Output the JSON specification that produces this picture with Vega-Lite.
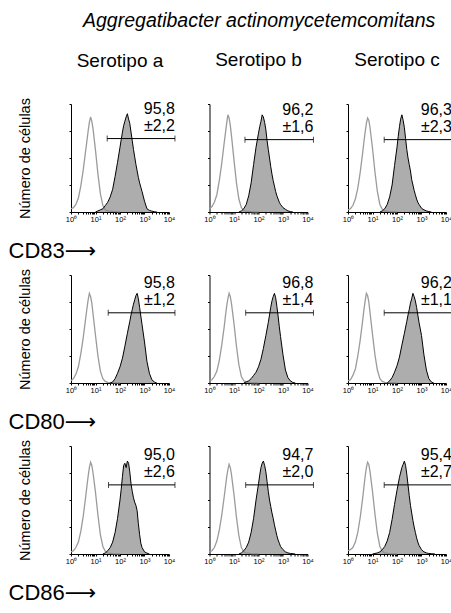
{
"$schema":"https://vega.github.io/schema/vega-lite/v6.json",
"padding":{"left":8,"right":0,"top":10,"bottom":5},
"title":{"text":"Aggregatibacter actinomycetemcomitans","fontStyle":"italic","fontSize":19.5,"fontWeight":"normal","anchor":"start","dx":75,"offset":20},
"datasets":{
"gates":[
{"p":"CD83a","x1":30,"x2":17500,"gy":68,"pct":"95,8","sd":"±2,2"},
{"p":"CD83b","x1":28,"x2":17500,"gy":67,"pct":"96,2","sd":"±1,6"},
{"p":"CD83c","x1":30,"x2":17500,"gy":67,"pct":"96,3","sd":"±2,3"},
{"p":"CD80a","x1":33,"x2":17500,"gy":65,"pct":"95,8","sd":"±1,2"},
{"p":"CD80b","x1":30,"x2":17500,"gy":65,"pct":"96,8","sd":"±1,4"},
{"p":"CD80c","x1":30,"x2":17500,"gy":65,"pct":"96,2","sd":"±1,1"},
{"p":"CD86a","x1":34,"x2":17500,"gy":64,"pct":"95,0","sd":"±2,6"},
{"p":"CD86b","x1":30,"x2":17500,"gy":64,"pct":"94,7","sd":"±2,0"},
{"p":"CD86c","x1":30,"x2":17500,"gy":64,"pct":"95,4","sd":"±2,7"}
],
"curves":[
{"p":"CD83a","s":"iso","x":1,"y":3},{"p":"CD83a","s":"iso","x":1.26,"y":4},{"p":"CD83a","s":"iso","x":1.58,"y":7},{"p":"CD83a","s":"iso","x":2,"y":13},{"p":"CD83a","s":"iso","x":2.51,"y":24},{"p":"CD83a","s":"iso","x":3.16,"y":39},{"p":"CD83a","s":"iso","x":3.98,"y":57},{"p":"CD83a","s":"iso","x":4.47,"y":66},{"p":"CD83a","s":"iso","x":5.01,"y":75},{"p":"CD83a","s":"iso","x":5.62,"y":83},{"p":"CD83a","s":"iso","x":6.31,"y":88},{"p":"CD83a","s":"iso","x":7.08,"y":84},{"p":"CD83a","s":"iso","x":7.94,"y":77},{"p":"CD83a","s":"iso","x":10,"y":57},{"p":"CD83a","s":"iso","x":12.6,"y":35},{"p":"CD83a","s":"iso","x":15.8,"y":17},{"p":"CD83a","s":"iso","x":20,"y":6},{"p":"CD83a","s":"iso","x":25.1,"y":2},{"p":"CD83a","s":"iso","x":31.6,"y":1},{"p":"CD83a","s":"iso","x":50,"y":0.5},{"p":"CD83a","s":"iso","x":100,"y":0.2},
{"p":"CD83b","s":"iso","x":1,"y":3},{"p":"CD83b","s":"iso","x":1.26,"y":5},{"p":"CD83b","s":"iso","x":1.58,"y":9},{"p":"CD83b","s":"iso","x":2,"y":16},{"p":"CD83b","s":"iso","x":2.51,"y":29},{"p":"CD83b","s":"iso","x":3.16,"y":45},{"p":"CD83b","s":"iso","x":3.98,"y":64},{"p":"CD83b","s":"iso","x":4.47,"y":73},{"p":"CD83b","s":"iso","x":5.01,"y":82},{"p":"CD83b","s":"iso","x":5.62,"y":90},{"p":"CD83b","s":"iso","x":6.31,"y":87},{"p":"CD83b","s":"iso","x":7.08,"y":80},{"p":"CD83b","s":"iso","x":7.94,"y":70},{"p":"CD83b","s":"iso","x":10,"y":48},{"p":"CD83b","s":"iso","x":12.6,"y":27},{"p":"CD83b","s":"iso","x":15.8,"y":12},{"p":"CD83b","s":"iso","x":20,"y":4},{"p":"CD83b","s":"iso","x":25.1,"y":1.5},{"p":"CD83b","s":"iso","x":31.6,"y":0.8},{"p":"CD83b","s":"iso","x":50,"y":0.3},{"p":"CD83b","s":"iso","x":100,"y":0.1},
{"p":"CD83c","s":"iso","x":1,"y":2},{"p":"CD83c","s":"iso","x":1.26,"y":3},{"p":"CD83c","s":"iso","x":1.58,"y":6},{"p":"CD83c","s":"iso","x":2,"y":12},{"p":"CD83c","s":"iso","x":2.51,"y":22},{"p":"CD83c","s":"iso","x":3.16,"y":37},{"p":"CD83c","s":"iso","x":3.98,"y":55},{"p":"CD83c","s":"iso","x":4.47,"y":65},{"p":"CD83c","s":"iso","x":5.01,"y":74},{"p":"CD83c","s":"iso","x":5.62,"y":82},{"p":"CD83c","s":"iso","x":6.31,"y":87},{"p":"CD83c","s":"iso","x":7.08,"y":85},{"p":"CD83c","s":"iso","x":7.94,"y":78},{"p":"CD83c","s":"iso","x":10,"y":59},{"p":"CD83c","s":"iso","x":12.6,"y":37},{"p":"CD83c","s":"iso","x":15.8,"y":19},{"p":"CD83c","s":"iso","x":20,"y":7},{"p":"CD83c","s":"iso","x":25.1,"y":2.5},{"p":"CD83c","s":"iso","x":31.6,"y":1},{"p":"CD83c","s":"iso","x":50,"y":0.4},{"p":"CD83c","s":"iso","x":100,"y":0.1},
{"p":"CD80a","s":"iso","x":1,"y":2},{"p":"CD80a","s":"iso","x":1.26,"y":4},{"p":"CD80a","s":"iso","x":1.58,"y":8},{"p":"CD80a","s":"iso","x":2,"y":15},{"p":"CD80a","s":"iso","x":2.51,"y":27},{"p":"CD80a","s":"iso","x":3.16,"y":42},{"p":"CD80a","s":"iso","x":3.98,"y":60},{"p":"CD80a","s":"iso","x":4.47,"y":69},{"p":"CD80a","s":"iso","x":5.01,"y":77},{"p":"CD80a","s":"iso","x":5.62,"y":83},{"p":"CD80a","s":"iso","x":6.31,"y":80},{"p":"CD80a","s":"iso","x":7.08,"y":74},{"p":"CD80a","s":"iso","x":7.94,"y":64},{"p":"CD80a","s":"iso","x":10,"y":44},{"p":"CD80a","s":"iso","x":12.6,"y":25},{"p":"CD80a","s":"iso","x":15.8,"y":11},{"p":"CD80a","s":"iso","x":20,"y":4},{"p":"CD80a","s":"iso","x":25.1,"y":1.5},{"p":"CD80a","s":"iso","x":31.6,"y":0.6},{"p":"CD80a","s":"iso","x":50,"y":0.3},{"p":"CD80a","s":"iso","x":100,"y":0.1},
{"p":"CD80b","s":"iso","x":1,"y":2},{"p":"CD80b","s":"iso","x":1.26,"y":3},{"p":"CD80b","s":"iso","x":1.58,"y":6},{"p":"CD80b","s":"iso","x":2,"y":11},{"p":"CD80b","s":"iso","x":2.51,"y":21},{"p":"CD80b","s":"iso","x":3.16,"y":35},{"p":"CD80b","s":"iso","x":3.98,"y":52},{"p":"CD80b","s":"iso","x":4.47,"y":62},{"p":"CD80b","s":"iso","x":5.01,"y":71},{"p":"CD80b","s":"iso","x":5.62,"y":78},{"p":"CD80b","s":"iso","x":6.31,"y":83},{"p":"CD80b","s":"iso","x":7.08,"y":80},{"p":"CD80b","s":"iso","x":7.94,"y":73},{"p":"CD80b","s":"iso","x":10,"y":55},{"p":"CD80b","s":"iso","x":12.6,"y":34},{"p":"CD80b","s":"iso","x":15.8,"y":17},{"p":"CD80b","s":"iso","x":20,"y":6},{"p":"CD80b","s":"iso","x":25.1,"y":2},{"p":"CD80b","s":"iso","x":31.6,"y":1},{"p":"CD80b","s":"iso","x":50,"y":0.4},{"p":"CD80b","s":"iso","x":100,"y":0.1},
{"p":"CD80c","s":"iso","x":1,"y":2},{"p":"CD80c","s":"iso","x":1.26,"y":3},{"p":"CD80c","s":"iso","x":1.58,"y":7},{"p":"CD80c","s":"iso","x":2,"y":13},{"p":"CD80c","s":"iso","x":2.51,"y":25},{"p":"CD80c","s":"iso","x":3.16,"y":40},{"p":"CD80c","s":"iso","x":3.98,"y":58},{"p":"CD80c","s":"iso","x":4.47,"y":68},{"p":"CD80c","s":"iso","x":5.01,"y":76},{"p":"CD80c","s":"iso","x":5.62,"y":83},{"p":"CD80c","s":"iso","x":6.31,"y":81},{"p":"CD80c","s":"iso","x":7.08,"y":75},{"p":"CD80c","s":"iso","x":7.94,"y":65},{"p":"CD80c","s":"iso","x":10,"y":45},{"p":"CD80c","s":"iso","x":12.6,"y":26},{"p":"CD80c","s":"iso","x":15.8,"y":12},{"p":"CD80c","s":"iso","x":20,"y":4},{"p":"CD80c","s":"iso","x":25.1,"y":1.5},{"p":"CD80c","s":"iso","x":31.6,"y":0.6},{"p":"CD80c","s":"iso","x":50,"y":0.3},{"p":"CD80c","s":"iso","x":100,"y":0.1},
{"p":"CD86a","s":"iso","x":1,"y":2},{"p":"CD86a","s":"iso","x":1.26,"y":3},{"p":"CD86a","s":"iso","x":1.58,"y":6},{"p":"CD86a","s":"iso","x":2,"y":11},{"p":"CD86a","s":"iso","x":2.51,"y":21},{"p":"CD86a","s":"iso","x":3.16,"y":35},{"p":"CD86a","s":"iso","x":3.98,"y":53},{"p":"CD86a","s":"iso","x":4.47,"y":63},{"p":"CD86a","s":"iso","x":5.01,"y":72},{"p":"CD86a","s":"iso","x":5.62,"y":80},{"p":"CD86a","s":"iso","x":6.31,"y":85},{"p":"CD86a","s":"iso","x":7.08,"y":82},{"p":"CD86a","s":"iso","x":7.94,"y":75},{"p":"CD86a","s":"iso","x":10,"y":57},{"p":"CD86a","s":"iso","x":12.6,"y":36},{"p":"CD86a","s":"iso","x":15.8,"y":18},{"p":"CD86a","s":"iso","x":20,"y":7},{"p":"CD86a","s":"iso","x":25.1,"y":2.5},{"p":"CD86a","s":"iso","x":31.6,"y":1},{"p":"CD86a","s":"iso","x":50,"y":0.4},{"p":"CD86a","s":"iso","x":100,"y":0.1},
{"p":"CD86b","s":"iso","x":1,"y":2},{"p":"CD86b","s":"iso","x":1.26,"y":3},{"p":"CD86b","s":"iso","x":1.58,"y":6},{"p":"CD86b","s":"iso","x":2,"y":12},{"p":"CD86b","s":"iso","x":2.51,"y":22},{"p":"CD86b","s":"iso","x":3.16,"y":36},{"p":"CD86b","s":"iso","x":3.98,"y":53},{"p":"CD86b","s":"iso","x":4.47,"y":62},{"p":"CD86b","s":"iso","x":5.01,"y":71},{"p":"CD86b","s":"iso","x":5.62,"y":78},{"p":"CD86b","s":"iso","x":6.31,"y":83},{"p":"CD86b","s":"iso","x":7.08,"y":80},{"p":"CD86b","s":"iso","x":7.94,"y":73},{"p":"CD86b","s":"iso","x":10,"y":55},{"p":"CD86b","s":"iso","x":12.6,"y":34},{"p":"CD86b","s":"iso","x":15.8,"y":17},{"p":"CD86b","s":"iso","x":20,"y":6},{"p":"CD86b","s":"iso","x":25.1,"y":2},{"p":"CD86b","s":"iso","x":31.6,"y":1},{"p":"CD86b","s":"iso","x":50,"y":0.4},{"p":"CD86b","s":"iso","x":100,"y":0.1},
{"p":"CD86c","s":"iso","x":1,"y":3},{"p":"CD86c","s":"iso","x":1.26,"y":4},{"p":"CD86c","s":"iso","x":1.58,"y":6},{"p":"CD86c","s":"iso","x":2,"y":11},{"p":"CD86c","s":"iso","x":2.51,"y":20},{"p":"CD86c","s":"iso","x":3.16,"y":34},{"p":"CD86c","s":"iso","x":3.98,"y":52},{"p":"CD86c","s":"iso","x":4.47,"y":62},{"p":"CD86c","s":"iso","x":5.01,"y":72},{"p":"CD86c","s":"iso","x":5.62,"y":80},{"p":"CD86c","s":"iso","x":6.31,"y":85},{"p":"CD86c","s":"iso","x":7.08,"y":83},{"p":"CD86c","s":"iso","x":7.94,"y":76},{"p":"CD86c","s":"iso","x":10,"y":58},{"p":"CD86c","s":"iso","x":12.6,"y":37},{"p":"CD86c","s":"iso","x":15.8,"y":19},{"p":"CD86c","s":"iso","x":20,"y":7},{"p":"CD86c","s":"iso","x":25.1,"y":2.5},{"p":"CD86c","s":"iso","x":31.6,"y":1},{"p":"CD86c","s":"iso","x":50,"y":0.4},{"p":"CD86c","s":"iso","x":100,"y":0.1},

{"p":"CD83a","s":"ab","x":10,"y":0},{"p":"CD83a","s":"ab","x":12.6,"y":1},{"p":"CD83a","s":"ab","x":15.8,"y":2},{"p":"CD83a","s":"ab","x":20,"y":3},{"p":"CD83a","s":"ab","x":25.1,"y":6},{"p":"CD83a","s":"ab","x":31.6,"y":9},{"p":"CD83a","s":"ab","x":39.8,"y":14},{"p":"CD83a","s":"ab","x":50.1,"y":21},{"p":"CD83a","s":"ab","x":63.1,"y":33},{"p":"CD83a","s":"ab","x":79.4,"y":46},{"p":"CD83a","s":"ab","x":100,"y":60},{"p":"CD83a","s":"ab","x":112,"y":67},{"p":"CD83a","s":"ab","x":126,"y":74},{"p":"CD83a","s":"ab","x":141,"y":80},{"p":"CD83a","s":"ab","x":158,"y":84},{"p":"CD83a","s":"ab","x":178,"y":88},{"p":"CD83a","s":"ab","x":200,"y":91},{"p":"CD83a","s":"ab","x":224,"y":86},{"p":"CD83a","s":"ab","x":251,"y":82},{"p":"CD83a","s":"ab","x":282,"y":74},{"p":"CD83a","s":"ab","x":316,"y":66},{"p":"CD83a","s":"ab","x":355,"y":58},{"p":"CD83a","s":"ab","x":398,"y":51},{"p":"CD83a","s":"ab","x":447,"y":44},{"p":"CD83a","s":"ab","x":501,"y":38},{"p":"CD83a","s":"ab","x":562,"y":32},{"p":"CD83a","s":"ab","x":631,"y":27},{"p":"CD83a","s":"ab","x":708,"y":23},{"p":"CD83a","s":"ab","x":794,"y":19},{"p":"CD83a","s":"ab","x":1000,"y":10},{"p":"CD83a","s":"ab","x":1259,"y":3},{"p":"CD83a","s":"ab","x":1585,"y":1.5},{"p":"CD83a","s":"ab","x":1995,"y":0.8},{"p":"CD83a","s":"ab","x":2512,"y":0.3},{"p":"CD83a","s":"ab","x":3162,"y":0},
{"p":"CD83b","s":"ab","x":15.8,"y":0},{"p":"CD83b","s":"ab","x":20,"y":1},{"p":"CD83b","s":"ab","x":25.1,"y":3},{"p":"CD83b","s":"ab","x":31.6,"y":7},{"p":"CD83b","s":"ab","x":39.8,"y":15},{"p":"CD83b","s":"ab","x":50.1,"y":27},{"p":"CD83b","s":"ab","x":63.1,"y":44},{"p":"CD83b","s":"ab","x":79.4,"y":60},{"p":"CD83b","s":"ab","x":100,"y":73},{"p":"CD83b","s":"ab","x":112,"y":79},{"p":"CD83b","s":"ab","x":126,"y":84},{"p":"CD83b","s":"ab","x":141,"y":90},{"p":"CD83b","s":"ab","x":158,"y":88},{"p":"CD83b","s":"ab","x":178,"y":83},{"p":"CD83b","s":"ab","x":200,"y":76},{"p":"CD83b","s":"ab","x":224,"y":66},{"p":"CD83b","s":"ab","x":251,"y":58},{"p":"CD83b","s":"ab","x":282,"y":50},{"p":"CD83b","s":"ab","x":316,"y":42},{"p":"CD83b","s":"ab","x":355,"y":35},{"p":"CD83b","s":"ab","x":398,"y":29},{"p":"CD83b","s":"ab","x":447,"y":24},{"p":"CD83b","s":"ab","x":501,"y":19},{"p":"CD83b","s":"ab","x":562,"y":15},{"p":"CD83b","s":"ab","x":631,"y":12},{"p":"CD83b","s":"ab","x":708,"y":9},{"p":"CD83b","s":"ab","x":794,"y":7},{"p":"CD83b","s":"ab","x":1000,"y":4},{"p":"CD83b","s":"ab","x":1259,"y":2.5},{"p":"CD83b","s":"ab","x":1585,"y":1},{"p":"CD83b","s":"ab","x":1995,"y":0.4},{"p":"CD83b","s":"ab","x":2512,"y":0},
{"p":"CD83c","s":"ab","x":20,"y":0},{"p":"CD83c","s":"ab","x":25.1,"y":1},{"p":"CD83c","s":"ab","x":31.6,"y":3},{"p":"CD83c","s":"ab","x":39.8,"y":7},{"p":"CD83c","s":"ab","x":50.1,"y":14},{"p":"CD83c","s":"ab","x":63.1,"y":25},{"p":"CD83c","s":"ab","x":79.4,"y":43},{"p":"CD83c","s":"ab","x":100,"y":60},{"p":"CD83c","s":"ab","x":112,"y":70},{"p":"CD83c","s":"ab","x":126,"y":79},{"p":"CD83c","s":"ab","x":141,"y":86},{"p":"CD83c","s":"ab","x":158,"y":90},{"p":"CD83c","s":"ab","x":178,"y":85},{"p":"CD83c","s":"ab","x":200,"y":78},{"p":"CD83c","s":"ab","x":224,"y":68},{"p":"CD83c","s":"ab","x":251,"y":58},{"p":"CD83c","s":"ab","x":282,"y":50},{"p":"CD83c","s":"ab","x":316,"y":44},{"p":"CD83c","s":"ab","x":355,"y":38},{"p":"CD83c","s":"ab","x":398,"y":30},{"p":"CD83c","s":"ab","x":447,"y":25},{"p":"CD83c","s":"ab","x":501,"y":20},{"p":"CD83c","s":"ab","x":562,"y":16},{"p":"CD83c","s":"ab","x":631,"y":12},{"p":"CD83c","s":"ab","x":708,"y":9},{"p":"CD83c","s":"ab","x":794,"y":7},{"p":"CD83c","s":"ab","x":1000,"y":3.5},{"p":"CD83c","s":"ab","x":1259,"y":2},{"p":"CD83c","s":"ab","x":1585,"y":1},{"p":"CD83c","s":"ab","x":1995,"y":0.4},{"p":"CD83c","s":"ab","x":2512,"y":0},
{"p":"CD80a","s":"ab","x":39.8,"y":0},{"p":"CD80a","s":"ab","x":50.1,"y":1},{"p":"CD80a","s":"ab","x":63.1,"y":4},{"p":"CD80a","s":"ab","x":79.4,"y":9},{"p":"CD80a","s":"ab","x":100,"y":15},{"p":"CD80a","s":"ab","x":126,"y":23},{"p":"CD80a","s":"ab","x":158,"y":34},{"p":"CD80a","s":"ab","x":200,"y":46},{"p":"CD80a","s":"ab","x":251,"y":57},{"p":"CD80a","s":"ab","x":282,"y":63},{"p":"CD80a","s":"ab","x":316,"y":68},{"p":"CD80a","s":"ab","x":355,"y":73},{"p":"CD80a","s":"ab","x":398,"y":77},{"p":"CD80a","s":"ab","x":447,"y":81},{"p":"CD80a","s":"ab","x":501,"y":83},{"p":"CD80a","s":"ab","x":562,"y":78},{"p":"CD80a","s":"ab","x":631,"y":70},{"p":"CD80a","s":"ab","x":708,"y":62},{"p":"CD80a","s":"ab","x":794,"y":54},{"p":"CD80a","s":"ab","x":1000,"y":38},{"p":"CD80a","s":"ab","x":1259,"y":20},{"p":"CD80a","s":"ab","x":1585,"y":9},{"p":"CD80a","s":"ab","x":1995,"y":3},{"p":"CD80a","s":"ab","x":2512,"y":1},{"p":"CD80a","s":"ab","x":3162,"y":0},
{"p":"CD80b","s":"ab","x":25.1,"y":0},{"p":"CD80b","s":"ab","x":31.6,"y":1},{"p":"CD80b","s":"ab","x":39.8,"y":2},{"p":"CD80b","s":"ab","x":50.1,"y":4},{"p":"CD80b","s":"ab","x":63.1,"y":7},{"p":"CD80b","s":"ab","x":79.4,"y":10},{"p":"CD80b","s":"ab","x":100,"y":15},{"p":"CD80b","s":"ab","x":126,"y":22},{"p":"CD80b","s":"ab","x":158,"y":32},{"p":"CD80b","s":"ab","x":200,"y":44},{"p":"CD80b","s":"ab","x":251,"y":56},{"p":"CD80b","s":"ab","x":282,"y":63},{"p":"CD80b","s":"ab","x":316,"y":70},{"p":"CD80b","s":"ab","x":355,"y":76},{"p":"CD80b","s":"ab","x":398,"y":80},{"p":"CD80b","s":"ab","x":447,"y":83},{"p":"CD80b","s":"ab","x":501,"y":79},{"p":"CD80b","s":"ab","x":562,"y":71},{"p":"CD80b","s":"ab","x":631,"y":62},{"p":"CD80b","s":"ab","x":708,"y":52},{"p":"CD80b","s":"ab","x":794,"y":43},{"p":"CD80b","s":"ab","x":1000,"y":26},{"p":"CD80b","s":"ab","x":1259,"y":12},{"p":"CD80b","s":"ab","x":1585,"y":5},{"p":"CD80b","s":"ab","x":1995,"y":2},{"p":"CD80b","s":"ab","x":2512,"y":0.5},{"p":"CD80b","s":"ab","x":3162,"y":0},
{"p":"CD80c","s":"ab","x":39.8,"y":0},{"p":"CD80c","s":"ab","x":50.1,"y":2},{"p":"CD80c","s":"ab","x":63.1,"y":5},{"p":"CD80c","s":"ab","x":79.4,"y":10},{"p":"CD80c","s":"ab","x":100,"y":16},{"p":"CD80c","s":"ab","x":126,"y":24},{"p":"CD80c","s":"ab","x":158,"y":35},{"p":"CD80c","s":"ab","x":200,"y":46},{"p":"CD80c","s":"ab","x":251,"y":57},{"p":"CD80c","s":"ab","x":282,"y":63},{"p":"CD80c","s":"ab","x":316,"y":68},{"p":"CD80c","s":"ab","x":355,"y":74},{"p":"CD80c","s":"ab","x":398,"y":78},{"p":"CD80c","s":"ab","x":447,"y":83},{"p":"CD80c","s":"ab","x":501,"y":80},{"p":"CD80c","s":"ab","x":562,"y":76},{"p":"CD80c","s":"ab","x":631,"y":70},{"p":"CD80c","s":"ab","x":708,"y":63},{"p":"CD80c","s":"ab","x":794,"y":56},{"p":"CD80c","s":"ab","x":1000,"y":44},{"p":"CD80c","s":"ab","x":1259,"y":26},{"p":"CD80c","s":"ab","x":1585,"y":12},{"p":"CD80c","s":"ab","x":1995,"y":4},{"p":"CD80c","s":"ab","x":2512,"y":1},{"p":"CD80c","s":"ab","x":3162,"y":0},
{"p":"CD86a","s":"ab","x":20,"y":0},{"p":"CD86a","s":"ab","x":25.1,"y":1},{"p":"CD86a","s":"ab","x":31.6,"y":3},{"p":"CD86a","s":"ab","x":39.8,"y":6},{"p":"CD86a","s":"ab","x":50.1,"y":11},{"p":"CD86a","s":"ab","x":63.1,"y":20},{"p":"CD86a","s":"ab","x":79.4,"y":33},{"p":"CD86a","s":"ab","x":100,"y":50},{"p":"CD86a","s":"ab","x":112,"y":60},{"p":"CD86a","s":"ab","x":126,"y":72},{"p":"CD86a","s":"ab","x":141,"y":82},{"p":"CD86a","s":"ab","x":158,"y":84},{"p":"CD86a","s":"ab","x":178,"y":80},{"p":"CD86a","s":"ab","x":200,"y":86},{"p":"CD86a","s":"ab","x":224,"y":84},{"p":"CD86a","s":"ab","x":251,"y":76},{"p":"CD86a","s":"ab","x":282,"y":65},{"p":"CD86a","s":"ab","x":316,"y":58},{"p":"CD86a","s":"ab","x":355,"y":52},{"p":"CD86a","s":"ab","x":398,"y":48},{"p":"CD86a","s":"ab","x":447,"y":45},{"p":"CD86a","s":"ab","x":501,"y":40},{"p":"CD86a","s":"ab","x":562,"y":28},{"p":"CD86a","s":"ab","x":631,"y":18},{"p":"CD86a","s":"ab","x":708,"y":10},{"p":"CD86a","s":"ab","x":794,"y":6},{"p":"CD86a","s":"ab","x":1000,"y":2},{"p":"CD86a","s":"ab","x":1259,"y":0.8},{"p":"CD86a","s":"ab","x":1585,"y":0},
{"p":"CD86b","s":"ab","x":15.8,"y":0},{"p":"CD86b","s":"ab","x":20,"y":1},{"p":"CD86b","s":"ab","x":25.1,"y":3},{"p":"CD86b","s":"ab","x":31.6,"y":6},{"p":"CD86b","s":"ab","x":39.8,"y":11},{"p":"CD86b","s":"ab","x":50.1,"y":20},{"p":"CD86b","s":"ab","x":63.1,"y":33},{"p":"CD86b","s":"ab","x":79.4,"y":50},{"p":"CD86b","s":"ab","x":100,"y":65},{"p":"CD86b","s":"ab","x":112,"y":73},{"p":"CD86b","s":"ab","x":126,"y":80},{"p":"CD86b","s":"ab","x":141,"y":84},{"p":"CD86b","s":"ab","x":158,"y":86},{"p":"CD86b","s":"ab","x":178,"y":82},{"p":"CD86b","s":"ab","x":200,"y":76},{"p":"CD86b","s":"ab","x":224,"y":67},{"p":"CD86b","s":"ab","x":251,"y":58},{"p":"CD86b","s":"ab","x":282,"y":50},{"p":"CD86b","s":"ab","x":316,"y":44},{"p":"CD86b","s":"ab","x":355,"y":38},{"p":"CD86b","s":"ab","x":398,"y":33},{"p":"CD86b","s":"ab","x":447,"y":27},{"p":"CD86b","s":"ab","x":501,"y":22},{"p":"CD86b","s":"ab","x":562,"y":17},{"p":"CD86b","s":"ab","x":631,"y":13},{"p":"CD86b","s":"ab","x":708,"y":10},{"p":"CD86b","s":"ab","x":794,"y":7},{"p":"CD86b","s":"ab","x":1000,"y":4},{"p":"CD86b","s":"ab","x":1259,"y":2},{"p":"CD86b","s":"ab","x":1585,"y":1},{"p":"CD86b","s":"ab","x":1995,"y":0.5},{"p":"CD86b","s":"ab","x":3162,"y":0},
{"p":"CD86c","s":"ab","x":10,"y":0},{"p":"CD86c","s":"ab","x":12.6,"y":0.5},{"p":"CD86c","s":"ab","x":15.8,"y":1},{"p":"CD86c","s":"ab","x":20,"y":2},{"p":"CD86c","s":"ab","x":25.1,"y":4},{"p":"CD86c","s":"ab","x":31.6,"y":7},{"p":"CD86c","s":"ab","x":39.8,"y":12},{"p":"CD86c","s":"ab","x":50.1,"y":20},{"p":"CD86c","s":"ab","x":63.1,"y":32},{"p":"CD86c","s":"ab","x":79.4,"y":46},{"p":"CD86c","s":"ab","x":100,"y":59},{"p":"CD86c","s":"ab","x":126,"y":71},{"p":"CD86c","s":"ab","x":158,"y":80},{"p":"CD86c","s":"ab","x":178,"y":83},{"p":"CD86c","s":"ab","x":200,"y":86},{"p":"CD86c","s":"ab","x":224,"y":82},{"p":"CD86c","s":"ab","x":251,"y":74},{"p":"CD86c","s":"ab","x":282,"y":64},{"p":"CD86c","s":"ab","x":316,"y":54},{"p":"CD86c","s":"ab","x":355,"y":45},{"p":"CD86c","s":"ab","x":398,"y":38},{"p":"CD86c","s":"ab","x":447,"y":31},{"p":"CD86c","s":"ab","x":501,"y":25},{"p":"CD86c","s":"ab","x":562,"y":20},{"p":"CD86c","s":"ab","x":631,"y":15},{"p":"CD86c","s":"ab","x":708,"y":11},{"p":"CD86c","s":"ab","x":794,"y":8},{"p":"CD86c","s":"ab","x":1000,"y":4},{"p":"CD86c","s":"ab","x":1259,"y":2},{"p":"CD86c","s":"ab","x":1585,"y":1},{"p":"CD86c","s":"ab","x":1995,"y":0.5},{"p":"CD86c","s":"ab","x":2512,"y":0.3},{"p":"CD86c","s":"ab","x":3548,"y":0}
]},
"vconcat":[
{"hconcat":[
{"width":98,"height":108,"title":{"text":"Serotipo a","fontSize":19,"fontWeight":"normal","anchor":"middle","offset":26.5},
"encoding":{"x":{"field":"x","type":"quantitative","scale":{"type":"log","domain":[1,10000]},"axis":{"values":[1,2,3,4,5,6,7,8,9,10,20,30,40,50,60,70,80,90,100,200,300,400,500,600,700,800,900,1000,2000,3000,4000,5000,6000,7000,8000,9000,10000],"labelExpr":"datum.value==1?'10⁰':datum.value==10?'10¹':datum.value==100?'10²':datum.value==1000?'10³':datum.value==10000?'10⁴':''","labelFontSize":7.5,"labelPadding":1,"tickSize":2,"labelOverlap":false,"labelFlush":false,"title":"CD83⟶","titleX":-63,"titleY":45,"titleAlign":"left","titleAnchor":"start","titleBaseline":"alphabetic","titleFontSize":22,"titleAngle":0,"titleFont":"Liberation Sans, DejaVu Sans"}},
"y":{"field":"y","type":"quantitative","scale":{"domain":[0,100]},"axis":{"values":[0,25,50,75,100],"labels":false,"tickSize":2,"title":"Número de células","titleX":-42,"titleY":54,"titleAngle":-90,"titleAlign":"center","titleBaseline":"alphabetic","titleFontSize":14.5}}},
"layer":[
{"data":{"name":"curves"},"transform":[{"filter":"datum.p=='CD83a' && datum.s=='iso'"}],"mark":{"type":"line","color":"#9b9b9b","strokeWidth":1.3}},
{"data":{"name":"curves"},"transform":[{"filter":"datum.p=='CD83a' && datum.s=='ab'"}],"mark":{"type":"area","color":"#8a8a8a","line":{"color":"#000","strokeWidth":1}}},
{"data":{"name":"gates"},"transform":[{"filter":"datum.p=='CD83a'"}],"layer":[
{"mark":{"type":"rule","color":"#000","strokeWidth":1},"encoding":{"x":{"field":"x1","type":"quantitative"},"x2":{"field":"x2"},"y":{"field":"gy","type":"quantitative"}}},
{"mark":{"type":"tick","orient":"vertical","size":6,"thickness":1,"color":"#000"},"encoding":{"x":{"field":"x1","type":"quantitative"},"y":{"field":"gy","type":"quantitative"}}},
{"mark":{"type":"tick","orient":"vertical","size":6,"thickness":1,"color":"#000"},"encoding":{"x":{"field":"x2","type":"quantitative"},"y":{"field":"gy","type":"quantitative"}}},
{"mark":{"type":"text","align":"right","baseline":"middle","dy":-29.5,"fontSize":16},"encoding":{"x":{"field":"x2","type":"quantitative"},"y":{"field":"gy","type":"quantitative"},"text":{"field":"pct"}}},
{"mark":{"type":"text","align":"right","baseline":"middle","dy":-13,"fontSize":16},"encoding":{"x":{"field":"x2","type":"quantitative"},"y":{"field":"gy","type":"quantitative"},"text":{"field":"sd"}}}
]}]},
{"width":98,"height":108,"title":{"text":"Serotipo b","fontSize":19,"fontWeight":"normal","anchor":"middle","offset":32},
"encoding":{"x":{"field":"x","type":"quantitative","scale":{"type":"log","domain":[1,10000]},"axis":{"values":[1,2,3,4,5,6,7,8,9,10,20,30,40,50,60,70,80,90,100,200,300,400,500,600,700,800,900,1000,2000,3000,4000,5000,6000,7000,8000,9000,10000],"labelExpr":"datum.value==1?'10⁰':datum.value==10?'10¹':datum.value==100?'10²':datum.value==1000?'10³':datum.value==10000?'10⁴':''","labelFontSize":7.5,"labelPadding":1,"tickSize":2,"labelOverlap":false,"labelFlush":false,"title":null}},
"y":{"field":"y","type":"quantitative","scale":{"domain":[0,100]},"axis":{"values":[0,25,50,75,100],"labels":false,"tickSize":2,"title":null}}},
"layer":[
{"data":{"name":"curves"},"transform":[{"filter":"datum.p=='CD83b' && datum.s=='iso'"}],"mark":{"type":"line","color":"#9b9b9b","strokeWidth":1.3}},
{"data":{"name":"curves"},"transform":[{"filter":"datum.p=='CD83b' && datum.s=='ab'"}],"mark":{"type":"area","color":"#8a8a8a","line":{"color":"#000","strokeWidth":1}}},
{"data":{"name":"gates"},"transform":[{"filter":"datum.p=='CD83b'"}],"layer":[
{"mark":{"type":"rule","color":"#000","strokeWidth":1},"encoding":{"x":{"field":"x1","type":"quantitative"},"x2":{"field":"x2"},"y":{"field":"gy","type":"quantitative"}}},
{"mark":{"type":"tick","orient":"vertical","size":6,"thickness":1,"color":"#000"},"encoding":{"x":{"field":"x1","type":"quantitative"},"y":{"field":"gy","type":"quantitative"}}},
{"mark":{"type":"tick","orient":"vertical","size":6,"thickness":1,"color":"#000"},"encoding":{"x":{"field":"x2","type":"quantitative"},"y":{"field":"gy","type":"quantitative"}}},
{"mark":{"type":"text","align":"right","baseline":"middle","dy":-29.5,"fontSize":16},"encoding":{"x":{"field":"x2","type":"quantitative"},"y":{"field":"gy","type":"quantitative"},"text":{"field":"pct"}}},
{"mark":{"type":"text","align":"right","baseline":"middle","dy":-13,"fontSize":16},"encoding":{"x":{"field":"x2","type":"quantitative"},"y":{"field":"gy","type":"quantitative"},"text":{"field":"sd"}}}
]}]},
{"width":98,"height":108,"title":{"text":"Serotipo c","fontSize":19,"fontWeight":"normal","anchor":"middle","offset":32},
"encoding":{"x":{"field":"x","type":"quantitative","scale":{"type":"log","domain":[1,10000]},"axis":{"values":[1,2,3,4,5,6,7,8,9,10,20,30,40,50,60,70,80,90,100,200,300,400,500,600,700,800,900,1000,2000,3000,4000,5000,6000,7000,8000,9000,10000],"labelExpr":"datum.value==1?'10⁰':datum.value==10?'10¹':datum.value==100?'10²':datum.value==1000?'10³':datum.value==10000?'10⁴':''","labelFontSize":7.5,"labelPadding":1,"tickSize":2,"labelOverlap":false,"labelFlush":false,"title":null}},
"y":{"field":"y","type":"quantitative","scale":{"domain":[0,100]},"axis":{"values":[0,25,50,75,100],"labels":false,"tickSize":2,"title":null}}},
"layer":[
{"data":{"name":"curves"},"transform":[{"filter":"datum.p=='CD83c' && datum.s=='iso'"}],"mark":{"type":"line","color":"#9b9b9b","strokeWidth":1.3}},
{"data":{"name":"curves"},"transform":[{"filter":"datum.p=='CD83c' && datum.s=='ab'"}],"mark":{"type":"area","color":"#8a8a8a","line":{"color":"#000","strokeWidth":1}}},
{"data":{"name":"gates"},"transform":[{"filter":"datum.p=='CD83c'"}],"layer":[
{"mark":{"type":"rule","color":"#000","strokeWidth":1},"encoding":{"x":{"field":"x1","type":"quantitative"},"x2":{"field":"x2"},"y":{"field":"gy","type":"quantitative"}}},
{"mark":{"type":"tick","orient":"vertical","size":6,"thickness":1,"color":"#000"},"encoding":{"x":{"field":"x1","type":"quantitative"},"y":{"field":"gy","type":"quantitative"}}},
{"mark":{"type":"tick","orient":"vertical","size":6,"thickness":1,"color":"#000"},"encoding":{"x":{"field":"x2","type":"quantitative"},"y":{"field":"gy","type":"quantitative"}}},
{"mark":{"type":"text","align":"right","baseline":"middle","dy":-29.5,"fontSize":16},"encoding":{"x":{"field":"x2","type":"quantitative"},"y":{"field":"gy","type":"quantitative"},"text":{"field":"pct"}}},
{"mark":{"type":"text","align":"right","baseline":"middle","dy":-13,"fontSize":16},"encoding":{"x":{"field":"x2","type":"quantitative"},"y":{"field":"gy","type":"quantitative"},"text":{"field":"sd"}}}
]}]}
],"spacing":27.5},
{"hconcat":[
{"width":98,"height":108,
"encoding":{"x":{"field":"x","type":"quantitative","scale":{"type":"log","domain":[1,10000]},"axis":{"values":[1,2,3,4,5,6,7,8,9,10,20,30,40,50,60,70,80,90,100,200,300,400,500,600,700,800,900,1000,2000,3000,4000,5000,6000,7000,8000,9000,10000],"labelExpr":"datum.value==1?'10⁰':datum.value==10?'10¹':datum.value==100?'10²':datum.value==1000?'10³':datum.value==10000?'10⁴':''","labelFontSize":7.5,"labelPadding":1,"tickSize":2,"labelOverlap":false,"labelFlush":false,"title":"CD80⟶","titleX":-63,"titleY":45,"titleAlign":"left","titleAnchor":"start","titleBaseline":"alphabetic","titleFontSize":22,"titleAngle":0,"titleFont":"Liberation Sans, DejaVu Sans"}},
"y":{"field":"y","type":"quantitative","scale":{"domain":[0,100]},"axis":{"values":[0,25,50,75,100],"labels":false,"tickSize":2,"title":"Número de células","titleX":-42,"titleY":54,"titleAngle":-90,"titleAlign":"center","titleBaseline":"alphabetic","titleFontSize":14.5}}},
"layer":[
{"data":{"name":"curves"},"transform":[{"filter":"datum.p=='CD80a' && datum.s=='iso'"}],"mark":{"type":"line","color":"#9b9b9b","strokeWidth":1.3}},
{"data":{"name":"curves"},"transform":[{"filter":"datum.p=='CD80a' && datum.s=='ab'"}],"mark":{"type":"area","color":"#8a8a8a","line":{"color":"#000","strokeWidth":1}}},
{"data":{"name":"gates"},"transform":[{"filter":"datum.p=='CD80a'"}],"layer":[
{"mark":{"type":"rule","color":"#000","strokeWidth":1},"encoding":{"x":{"field":"x1","type":"quantitative"},"x2":{"field":"x2"},"y":{"field":"gy","type":"quantitative"}}},
{"mark":{"type":"tick","orient":"vertical","size":6,"thickness":1,"color":"#000"},"encoding":{"x":{"field":"x1","type":"quantitative"},"y":{"field":"gy","type":"quantitative"}}},
{"mark":{"type":"tick","orient":"vertical","size":6,"thickness":1,"color":"#000"},"encoding":{"x":{"field":"x2","type":"quantitative"},"y":{"field":"gy","type":"quantitative"}}},
{"mark":{"type":"text","align":"right","baseline":"middle","dy":-29.5,"fontSize":16},"encoding":{"x":{"field":"x2","type":"quantitative"},"y":{"field":"gy","type":"quantitative"},"text":{"field":"pct"}}},
{"mark":{"type":"text","align":"right","baseline":"middle","dy":-13,"fontSize":16},"encoding":{"x":{"field":"x2","type":"quantitative"},"y":{"field":"gy","type":"quantitative"},"text":{"field":"sd"}}}
]}]},
{"width":98,"height":108,
"encoding":{"x":{"field":"x","type":"quantitative","scale":{"type":"log","domain":[1,10000]},"axis":{"values":[1,2,3,4,5,6,7,8,9,10,20,30,40,50,60,70,80,90,100,200,300,400,500,600,700,800,900,1000,2000,3000,4000,5000,6000,7000,8000,9000,10000],"labelExpr":"datum.value==1?'10⁰':datum.value==10?'10¹':datum.value==100?'10²':datum.value==1000?'10³':datum.value==10000?'10⁴':''","labelFontSize":7.5,"labelPadding":1,"tickSize":2,"labelOverlap":false,"labelFlush":false,"title":null}},
"y":{"field":"y","type":"quantitative","scale":{"domain":[0,100]},"axis":{"values":[0,25,50,75,100],"labels":false,"tickSize":2,"title":null}}},
"layer":[
{"data":{"name":"curves"},"transform":[{"filter":"datum.p=='CD80b' && datum.s=='iso'"}],"mark":{"type":"line","color":"#9b9b9b","strokeWidth":1.3}},
{"data":{"name":"curves"},"transform":[{"filter":"datum.p=='CD80b' && datum.s=='ab'"}],"mark":{"type":"area","color":"#8a8a8a","line":{"color":"#000","strokeWidth":1}}},
{"data":{"name":"gates"},"transform":[{"filter":"datum.p=='CD80b'"}],"layer":[
{"mark":{"type":"rule","color":"#000","strokeWidth":1},"encoding":{"x":{"field":"x1","type":"quantitative"},"x2":{"field":"x2"},"y":{"field":"gy","type":"quantitative"}}},
{"mark":{"type":"tick","orient":"vertical","size":6,"thickness":1,"color":"#000"},"encoding":{"x":{"field":"x1","type":"quantitative"},"y":{"field":"gy","type":"quantitative"}}},
{"mark":{"type":"tick","orient":"vertical","size":6,"thickness":1,"color":"#000"},"encoding":{"x":{"field":"x2","type":"quantitative"},"y":{"field":"gy","type":"quantitative"}}},
{"mark":{"type":"text","align":"right","baseline":"middle","dy":-29.5,"fontSize":16},"encoding":{"x":{"field":"x2","type":"quantitative"},"y":{"field":"gy","type":"quantitative"},"text":{"field":"pct"}}},
{"mark":{"type":"text","align":"right","baseline":"middle","dy":-13,"fontSize":16},"encoding":{"x":{"field":"x2","type":"quantitative"},"y":{"field":"gy","type":"quantitative"},"text":{"field":"sd"}}}
]}]},
{"width":98,"height":108,
"encoding":{"x":{"field":"x","type":"quantitative","scale":{"type":"log","domain":[1,10000]},"axis":{"values":[1,2,3,4,5,6,7,8,9,10,20,30,40,50,60,70,80,90,100,200,300,400,500,600,700,800,900,1000,2000,3000,4000,5000,6000,7000,8000,9000,10000],"labelExpr":"datum.value==1?'10⁰':datum.value==10?'10¹':datum.value==100?'10²':datum.value==1000?'10³':datum.value==10000?'10⁴':''","labelFontSize":7.5,"labelPadding":1,"tickSize":2,"labelOverlap":false,"labelFlush":false,"title":null}},
"y":{"field":"y","type":"quantitative","scale":{"domain":[0,100]},"axis":{"values":[0,25,50,75,100],"labels":false,"tickSize":2,"title":null}}},
"layer":[
{"data":{"name":"curves"},"transform":[{"filter":"datum.p=='CD80c' && datum.s=='iso'"}],"mark":{"type":"line","color":"#9b9b9b","strokeWidth":1.3}},
{"data":{"name":"curves"},"transform":[{"filter":"datum.p=='CD80c' && datum.s=='ab'"}],"mark":{"type":"area","color":"#8a8a8a","line":{"color":"#000","strokeWidth":1}}},
{"data":{"name":"gates"},"transform":[{"filter":"datum.p=='CD80c'"}],"layer":[
{"mark":{"type":"rule","color":"#000","strokeWidth":1},"encoding":{"x":{"field":"x1","type":"quantitative"},"x2":{"field":"x2"},"y":{"field":"gy","type":"quantitative"}}},
{"mark":{"type":"tick","orient":"vertical","size":6,"thickness":1,"color":"#000"},"encoding":{"x":{"field":"x1","type":"quantitative"},"y":{"field":"gy","type":"quantitative"}}},
{"mark":{"type":"tick","orient":"vertical","size":6,"thickness":1,"color":"#000"},"encoding":{"x":{"field":"x2","type":"quantitative"},"y":{"field":"gy","type":"quantitative"}}},
{"mark":{"type":"text","align":"right","baseline":"middle","dy":-29.5,"fontSize":16},"encoding":{"x":{"field":"x2","type":"quantitative"},"y":{"field":"gy","type":"quantitative"},"text":{"field":"pct"}}},
{"mark":{"type":"text","align":"right","baseline":"middle","dy":-13,"fontSize":16},"encoding":{"x":{"field":"x2","type":"quantitative"},"y":{"field":"gy","type":"quantitative"},"text":{"field":"sd"}}}
]}]}
],"spacing":27.5},
{"hconcat":[
{"width":98,"height":108,
"encoding":{"x":{"field":"x","type":"quantitative","scale":{"type":"log","domain":[1,10000]},"axis":{"values":[1,2,3,4,5,6,7,8,9,10,20,30,40,50,60,70,80,90,100,200,300,400,500,600,700,800,900,1000,2000,3000,4000,5000,6000,7000,8000,9000,10000],"labelExpr":"datum.value==1?'10⁰':datum.value==10?'10¹':datum.value==100?'10²':datum.value==1000?'10³':datum.value==10000?'10⁴':''","labelFontSize":7.5,"labelPadding":1,"tickSize":2,"labelOverlap":false,"labelFlush":false,"title":"CD86⟶","titleX":-63,"titleY":45,"titleAlign":"left","titleAnchor":"start","titleBaseline":"alphabetic","titleFontSize":22,"titleAngle":0,"titleFont":"Liberation Sans, DejaVu Sans"}},
"y":{"field":"y","type":"quantitative","scale":{"domain":[0,100]},"axis":{"values":[0,25,50,75,100],"labels":false,"tickSize":2,"title":"Número de células","titleX":-42,"titleY":54,"titleAngle":-90,"titleAlign":"center","titleBaseline":"alphabetic","titleFontSize":14.5}}},
"layer":[
{"data":{"name":"curves"},"transform":[{"filter":"datum.p=='CD86a' && datum.s=='iso'"}],"mark":{"type":"line","color":"#9b9b9b","strokeWidth":1.3}},
{"data":{"name":"curves"},"transform":[{"filter":"datum.p=='CD86a' && datum.s=='ab'"}],"mark":{"type":"area","color":"#8a8a8a","line":{"color":"#000","strokeWidth":1}}},
{"data":{"name":"gates"},"transform":[{"filter":"datum.p=='CD86a'"}],"layer":[
{"mark":{"type":"rule","color":"#000","strokeWidth":1},"encoding":{"x":{"field":"x1","type":"quantitative"},"x2":{"field":"x2"},"y":{"field":"gy","type":"quantitative"}}},
{"mark":{"type":"tick","orient":"vertical","size":6,"thickness":1,"color":"#000"},"encoding":{"x":{"field":"x1","type":"quantitative"},"y":{"field":"gy","type":"quantitative"}}},
{"mark":{"type":"tick","orient":"vertical","size":6,"thickness":1,"color":"#000"},"encoding":{"x":{"field":"x2","type":"quantitative"},"y":{"field":"gy","type":"quantitative"}}},
{"mark":{"type":"text","align":"right","baseline":"middle","dy":-29.5,"fontSize":16},"encoding":{"x":{"field":"x2","type":"quantitative"},"y":{"field":"gy","type":"quantitative"},"text":{"field":"pct"}}},
{"mark":{"type":"text","align":"right","baseline":"middle","dy":-13,"fontSize":16},"encoding":{"x":{"field":"x2","type":"quantitative"},"y":{"field":"gy","type":"quantitative"},"text":{"field":"sd"}}}
]}]},
{"width":98,"height":108,
"encoding":{"x":{"field":"x","type":"quantitative","scale":{"type":"log","domain":[1,10000]},"axis":{"values":[1,2,3,4,5,6,7,8,9,10,20,30,40,50,60,70,80,90,100,200,300,400,500,600,700,800,900,1000,2000,3000,4000,5000,6000,7000,8000,9000,10000],"labelExpr":"datum.value==1?'10⁰':datum.value==10?'10¹':datum.value==100?'10²':datum.value==1000?'10³':datum.value==10000?'10⁴':''","labelFontSize":7.5,"labelPadding":1,"tickSize":2,"labelOverlap":false,"labelFlush":false,"title":null}},
"y":{"field":"y","type":"quantitative","scale":{"domain":[0,100]},"axis":{"values":[0,25,50,75,100],"labels":false,"tickSize":2,"title":null}}},
"layer":[
{"data":{"name":"curves"},"transform":[{"filter":"datum.p=='CD86b' && datum.s=='iso'"}],"mark":{"type":"line","color":"#9b9b9b","strokeWidth":1.3}},
{"data":{"name":"curves"},"transform":[{"filter":"datum.p=='CD86b' && datum.s=='ab'"}],"mark":{"type":"area","color":"#8a8a8a","line":{"color":"#000","strokeWidth":1}}},
{"data":{"name":"gates"},"transform":[{"filter":"datum.p=='CD86b'"}],"layer":[
{"mark":{"type":"rule","color":"#000","strokeWidth":1},"encoding":{"x":{"field":"x1","type":"quantitative"},"x2":{"field":"x2"},"y":{"field":"gy","type":"quantitative"}}},
{"mark":{"type":"tick","orient":"vertical","size":6,"thickness":1,"color":"#000"},"encoding":{"x":{"field":"x1","type":"quantitative"},"y":{"field":"gy","type":"quantitative"}}},
{"mark":{"type":"tick","orient":"vertical","size":6,"thickness":1,"color":"#000"},"encoding":{"x":{"field":"x2","type":"quantitative"},"y":{"field":"gy","type":"quantitative"}}},
{"mark":{"type":"text","align":"right","baseline":"middle","dy":-29.5,"fontSize":16},"encoding":{"x":{"field":"x2","type":"quantitative"},"y":{"field":"gy","type":"quantitative"},"text":{"field":"pct"}}},
{"mark":{"type":"text","align":"right","baseline":"middle","dy":-13,"fontSize":16},"encoding":{"x":{"field":"x2","type":"quantitative"},"y":{"field":"gy","type":"quantitative"},"text":{"field":"sd"}}}
]}]},
{"width":98,"height":108,
"encoding":{"x":{"field":"x","type":"quantitative","scale":{"type":"log","domain":[1,10000]},"axis":{"values":[1,2,3,4,5,6,7,8,9,10,20,30,40,50,60,70,80,90,100,200,300,400,500,600,700,800,900,1000,2000,3000,4000,5000,6000,7000,8000,9000,10000],"labelExpr":"datum.value==1?'10⁰':datum.value==10?'10¹':datum.value==100?'10²':datum.value==1000?'10³':datum.value==10000?'10⁴':''","labelFontSize":7.5,"labelPadding":1,"tickSize":2,"labelOverlap":false,"labelFlush":false,"title":null}},
"y":{"field":"y","type":"quantitative","scale":{"domain":[0,100]},"axis":{"values":[0,25,50,75,100],"labels":false,"tickSize":2,"title":null}}},
"layer":[
{"data":{"name":"curves"},"transform":[{"filter":"datum.p=='CD86c' && datum.s=='iso'"}],"mark":{"type":"line","color":"#9b9b9b","strokeWidth":1.3}},
{"data":{"name":"curves"},"transform":[{"filter":"datum.p=='CD86c' && datum.s=='ab'"}],"mark":{"type":"area","color":"#8a8a8a","line":{"color":"#000","strokeWidth":1}}},
{"data":{"name":"gates"},"transform":[{"filter":"datum.p=='CD86c'"}],"layer":[
{"mark":{"type":"rule","color":"#000","strokeWidth":1},"encoding":{"x":{"field":"x1","type":"quantitative"},"x2":{"field":"x2"},"y":{"field":"gy","type":"quantitative"}}},
{"mark":{"type":"tick","orient":"vertical","size":6,"thickness":1,"color":"#000"},"encoding":{"x":{"field":"x1","type":"quantitative"},"y":{"field":"gy","type":"quantitative"}}},
{"mark":{"type":"tick","orient":"vertical","size":6,"thickness":1,"color":"#000"},"encoding":{"x":{"field":"x2","type":"quantitative"},"y":{"field":"gy","type":"quantitative"}}},
{"mark":{"type":"text","align":"right","baseline":"middle","dy":-29.5,"fontSize":16},"encoding":{"x":{"field":"x2","type":"quantitative"},"y":{"field":"gy","type":"quantitative"},"text":{"field":"pct"}}},
{"mark":{"type":"text","align":"right","baseline":"middle","dy":-13,"fontSize":16},"encoding":{"x":{"field":"x2","type":"quantitative"},"y":{"field":"gy","type":"quantitative"},"text":{"field":"sd"}}}
]}]}
],"spacing":27.5}
],
"spacing":7,
"config":{"view":{"stroke":null},"font":"Liberation Sans","axis":{"domainColor":"#000","tickColor":"#000","labelColor":"#000","titleColor":"#000","grid":false,"labelFont":"Liberation Sans","titleFont":"Liberation Sans","titleFontWeight":"normal","domainWidth":1,"tickWidth":1},"title":{"font":"Liberation Sans","color":"#000","fontWeight":"normal"},"text":{"font":"Liberation Sans","color":"#000"}}
}
